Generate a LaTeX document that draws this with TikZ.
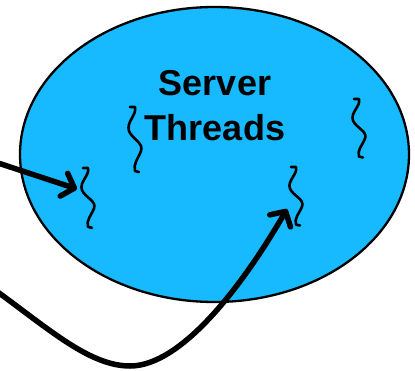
\documentclass[tikz,border=0pt]{standalone}
\usepackage{fontspec}
\setmainfont{Liberation Sans}
\usetikzlibrary{arrows.meta,shapes.geometric}
\definecolor{cellblue}{RGB}{24,186,255}
\tikzset{
  squig/.pic={
    \draw[squigline] (-5,0) -- (0,0) .. controls (2,8) and (-9,15) .. (-6,24)
      .. controls (-3,32) and (9,36) .. (6,44)
      .. controls (3,52) and (-2,57) .. (0,64) -- (4,65);
  },
  squigline/.style={line width=2.6pt, line cap=round, line join=round},
  callarrow/.style={line width=5.5pt, line cap=round,
    -{Straight Barb[length=11pt,width=24pt,round]}},
}
\begin{document}
\begin{tikzpicture}[x=1pt,y=-1pt]
\useasboundingbox (0,0) rectangle (415,370);
\node[ellipse, draw, line width=2.3pt, fill=cellblue, minimum width=389pt, minimum height=295pt, inner sep=0pt] (proc) at (214.5,154.5) {};
\node[inner sep=0pt, align=center, font=\fontsize{36}{45}\selectfont\bfseries] (label) at (215,106) {Server\\Threads};
\pic at (135,107) {squig};
\pic[yscale=0.9] at (359,99) {squig};
\pic[yscale=0.92] at (88,168) {squig};
\pic[yscale=0.9] at (296,167) {squig};
\coordinate (in1) at (-5,162);
\coordinate (tip1) at (77,189);
\coordinate (in2) at (-5,290);
\coordinate (low) at (130,366);
\coordinate (tip2) at (287,209);
\draw[callarrow] (in1) -- (tip1);
\draw[callarrow] (in2) .. controls (50,330) and (90,366) .. (low)
  .. controls (180,366) and (240,290) .. (tip2);
\end{tikzpicture}
\end{document}
